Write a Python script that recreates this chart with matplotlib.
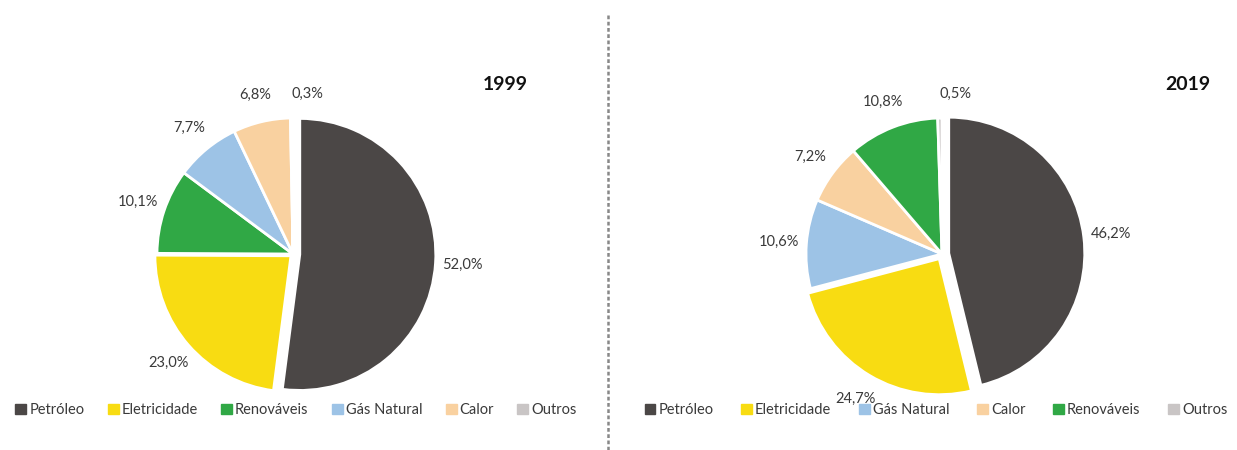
import matplotlib.pyplot as plt
import matplotlib.patches as mpatches
from matplotlib.lines import Line2D

plt.rcParams['font.family'] = ['Lato', 'DejaVu Sans']

# data
labels_1999 = ['Petróleo', 'Eletricidade', 'Renováveis', 'Gás Natural', 'Calor', 'Outros']
values_1999 = [52.0, 23.0, 10.1, 7.7, 6.8, 0.3]
labels_2019 = ['Petróleo', 'Eletricidade', 'Gás Natural', 'Calor', 'Renováveis', 'Outros']
values_2019 = [46.2, 24.7, 10.6, 7.2, 10.8, 0.5]

colors = {
    'Petróleo': '#4b4746',
    'Eletricidade': '#f8dc12',
    'Renováveis': '#30a845',
    'Gás Natural': '#9dc3e6',
    'Calor': '#f9d1a0',
    'Outros': '#c9c5c5',
}

W, H = 1237, 450
fig = plt.figure(figsize=(W / 100, H / 100), dpi=100)

R = 136  # pie radius in px
LIM = 1.35


def draw_pie(cx, cy, labels, values, explode, year, year_xy, legend_cx, colsp):
    size = 2 * LIM * R
    ax = fig.add_axes([(cx - size / 2) / W, (H - cy - size / 2) / H, size / W, size / H])
    pct = [f'{v:.1f}%'.replace('.', ',') for v in values]
    wedges, texts = ax.pie(values, colors=[colors[l] for l in labels], startangle=90,
                           counterclock=False, explode=explode, labels=pct,
                           labeldistance=1.2,
                           wedgeprops=dict(edgecolor='white', linewidth=2),
                           textprops=dict(fontsize=10.5, color='#3a3a3a'))
    for t in texts:
        t.set_ha('center')
        t.set_va('center')
    # the tiny "Outros" label sits a bit to the right of the slice
    x, y = texts[-1].get_position()
    texts[-1].set_position((x + 0.12, y - 0.02))
    ax.set_xlim(-LIM, LIM)
    ax.set_ylim(-LIM, LIM)
    ax.set_aspect('equal')
    ax.axis('off')
    fig.text(year_xy[0] / W, 1 - year_xy[1] / H, year, fontsize=14, fontweight='bold',
             ha='center', va='center', color='#111111')
    handles = [mpatches.Patch(color=colors[l]) for l in labels]
    fig.legend(handles, labels, loc='center', bbox_to_anchor=(legend_cx / W, 1 - 410 / H),
               ncol=6, frameon=False, fontsize=10.5, handlelength=0.75, handleheight=0.75,
               handletextpad=0.2, columnspacing=colsp, labelcolor='#3a3a3a')


draw_pie(293, 254, labels_1999, values_1999, [0.05, 0.02, 0, 0, 0, 0], '1999', (505, 85), 296, 1.6)
draw_pie(942, 254, labels_2019, values_2019, [0.05, 0.04, 0, 0, 0, 0], '2019', (1188, 85), 936, 1.9)

# dotted divider
fig.add_artist(Line2D([608 / W, 608 / W], [0, 1 - 14 / H], transform=fig.transFigure,
                      color='#888888', linestyle=(0, (1.5, 1)), linewidth=1.8))

fig.savefig('out.png', dpi=100)
